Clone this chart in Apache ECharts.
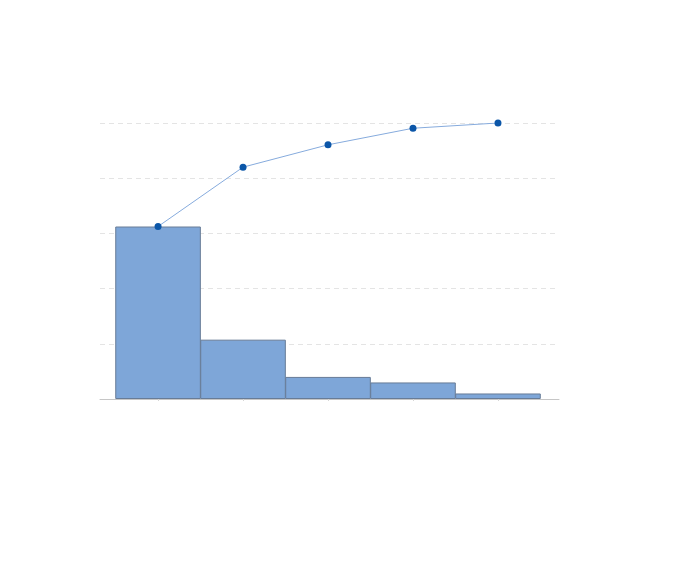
<!DOCTYPE html>
<html lang="en">
<head>
    <meta charset="UTF-8">
    <script src="https://cdn.jsdelivr.net/npm/echarts/dist/echarts.min.js"></script>
    <style>
        body, html { margin: 0; padding: 0; width: 100%; height: 100%; background: #fff; }
        #chart { width: 700px; height: 582px; }
    </style>
</head>
<body>
    <div id="chart"></div>
    <script>
        // category positions on the x axis and the values
        const positions = [1, 2, 3, 4, 5];
        const counts = [125, 43, 16, 12, 4];
        const cumulativePct = [62.5, 84, 92.1, 98.1, 100];

        let chart = echarts.init(document.getElementById('chart'));
        let option = {
            animation: false,
            grid: { left: 100, right: 141, top: 123, bottom: 183, containLabel: false },
            xAxis: {
                type: 'value',
                min: 0.317,
                max: 5.718,
                axisLabel: { show: false },
                splitLine: { show: false },
                axisLine: { show: true, lineStyle: { color: '#c6c6c6', width: 1 } },
                axisTick: { show: true, customValues: positions, length: 2, lineStyle: { color: '#d6d6d6' } }
            },
            yAxis: [{
                type: 'value',
                min: 0,
                max: 200,
                interval: 40,
                axisLabel: { show: false },
                axisLine: { show: false },
                axisTick: { show: false },
                splitLine: { show: true, lineStyle: { color: '#e4e4e4', type: [5, 4], width: 1 } }
            }, {
                type: 'value',
                min: 0,
                max: 100,
                interval: 20,
                axisLabel: { show: false },
                axisLine: { show: false },
                axisTick: { show: false },
                splitLine: { show: false }
            }],
            series: [{
                type: 'bar',
                barWidth: 85.6,
                data: positions.map((p, i) => [p, counts[i]]),
                itemStyle: { color: '#7ea6d8', borderColor: '#687c97', borderWidth: 1 }
            }, {
                type: 'line',
                yAxisIndex: 1,
                data: positions.map((p, i) => [p, cumulativePct[i]]),
                symbol: 'circle',
                symbolSize: 7,
                itemStyle: { color: '#0b56a8' },
                lineStyle: { color: '#86abdd', width: 1 },
                z: 3
            }]
        };
        chart.setOption(option);
    </script>
</body>
</html>
